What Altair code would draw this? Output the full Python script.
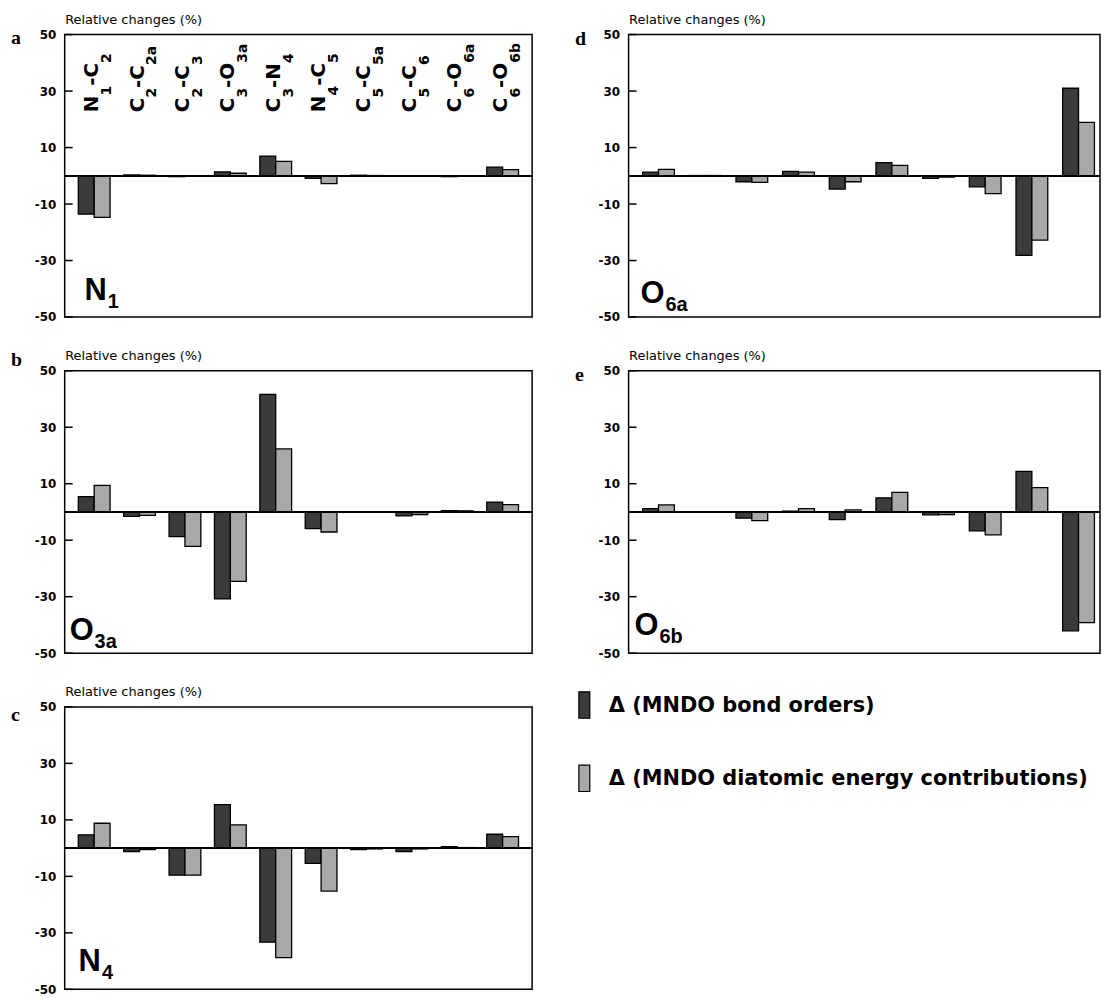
import altair as alt
import pandas as pd

# ---------------- data ----------------
atom1 = ["N", "C", "C", "C", "C", "N", "C", "C", "C", "C"]
sub1 = ["1", "2", "2", "3", "3", "4", "5", "5", "6", "6"]
atom2 = ["C", "C", "C", "O", "N", "C", "C", "C", "O", "O"]
sub2 = ["2", "2a", "3", "3a", "4", "5", "5a", "6", "6a", "6b"]
bonds = [f"{a}{s}-{b}{t}" for a, s, b, t in zip(atom1, sub1, atom2, sub2)]

series = ["Δ (MNDO bond orders)", "Δ (MNDO diatomic energy contributions)"]
tick_values = [-50, -30, -10, 10, 30, 50]
y_title = "Relative changes (%)"

# panel a : N1
a_bo = [-13.6, 0.3, -0.3, 1.4, 7.0, -0.9, 0.2, -0.2, -0.3, 3.1]
a_en = [-14.7, 0.2, -0.2, 0.9, 5.1, -2.8, 0.1, -0.2, -0.2, 2.2]
# panel b : O3a
b_bo = [5.4, -1.6, -8.7, -30.8, 41.6, -5.9, 0.1, -1.4, 0.5, 3.5]
b_en = [9.4, -1.2, -12.2, -24.6, 22.3, -7.1, 0.1, -0.9, 0.4, 2.6]
# panel c : N4
c_bo = [4.7, -1.2, -9.6, 15.4, -33.3, -5.4, -0.5, -1.2, 0.5, 4.9]
c_en = [8.8, -0.5, -9.6, 8.2, -38.8, -15.2, -0.3, -0.3, 0.2, 4.1]
# panel d : O6a
d_bo = [1.3, 0.1, -2.1, 1.6, -4.7, 4.7, -0.9, -3.9, -28.2, 31.0]
d_en = [2.3, 0.1, -2.3, 1.3, -2.1, 3.7, -0.5, -6.3, -22.8, 18.9]
# panel e : O6b
e_bo = [1.2, 0.1, -2.2, 0.3, -2.7, 5.0, -1.0, -6.7, 14.4, -42.1]
e_en = [2.5, 0.1, -3.1, 1.2, 0.7, 6.9, -0.9, -8.1, 8.6, -39.2]

letters = ["a", "b", "c", "d", "e"]
ann_atom = ["N", "O", "N", "O", "O"]
ann_sub = ["1", "3a", "4", "6a", "6b"]

# ---------------- styling ----------------
H = 284
W_LEFT = 470
W_RIGHT = 474
LET_X = -54
fill_scale = alt.Scale(domain=series, range=["#3b3b3b", "#a8a8a8"])
y_scale = alt.Scale(domain=[-50, 50], nice=False)
y_axis = alt.Axis(
    values=tick_values, ticks=False, tickSize=0, domain=False, grid=False,
    labelExpr="'' + datum.value", labelPadding=9, labelFont="DejaVu Sans",
    labelFontSize=12, labelFontWeight="bold", labelColor="black",
    title=y_title, titleAngle=0, titleAlign="left", titleBaseline="alphabetic",
    titleX=0, titleY=-11, titleFont="DejaVu Sans", titleFontSize=13,
    titleFontWeight="normal", titleColor="black",
)

# rotated bond labels (composed of main letters and lowered subscripts)
F_MAIN, F_SUB, SUB_DROP, SHIFT = 20, 14, 13, 4
W_DJB = {"N": 0.837, "C": 0.734, "O": 0.850, "-": 0.415}
W_DIG = 0.696
seg_rows = []
for bnd, a1, s1, a2, s2 in zip(bonds, atom1, sub1, atom2, sub2):
    o2 = W_DJB[a1] * F_MAIN
    o3 = o2 + W_DIG * F_SUB * len(s1)
    o4 = o3 + (W_DJB["-"] + W_DJB[a2]) * F_MAIN
    seg_rows += [(bnd, a1, 0.0, False), (bnd, s1, round(o2, 1), True),
                 (bnd, "-" + a2, round(o3, 1), False), (bnd, s2, round(o4, 1), True)]
seg_df = pd.DataFrame(seg_rows, columns=["bond", "text", "off", "sub"])

W_LSB = {"N": 0.722, "O": 0.778}


def panel(idx, bo, en, width, ann_x, ann_up, let_y, with_labels, p_outer, b_align):
    df = pd.DataFrame({
        "bond": bonds * 2,
        "series": [series[0]] * len(bonds) + [series[1]] * len(bonds),
        "value": bo + en,
    })
    xs = alt.X("bond:N", sort=bonds, axis=None,
               scale=alt.Scale(domain=bonds, paddingInner=0.3,
                               paddingOuter=p_outer, align=b_align))
    bars = alt.Chart(df).mark_bar(stroke="black", strokeWidth=1.3).encode(
        x=xs,
        xOffset=alt.XOffset("series:N", sort=series,
                            scale=alt.Scale(domain=series, paddingInner=0, paddingOuter=0)),
        y=alt.Y("value:Q", scale=y_scale, axis=y_axis),
        fill=alt.Fill("series:N", scale=fill_scale, legend=None),
    )
    zero = alt.Chart(df).mark_rule(color="black", strokeWidth=1.6).encode(y=alt.datum(0))
    ticks = alt.Chart(pd.DataFrame({"t": tick_values})).mark_rule(
        color="black", strokeWidth=1.5).encode(
        y=alt.Y("t:Q", scale=y_scale, axis=y_axis), x=alt.value(0), x2=alt.value(8))
    letter = alt.Chart(pd.DataFrame({"t": [letters[idx]]})).mark_text(
        align="left", baseline="alphabetic", font="Liberation Serif",
        fontWeight="bold", fontSize=20, color="black").encode(
        x=alt.value(LET_X), y=alt.value(let_y), text="t:N")
    atom = ann_atom[idx]
    ann_main = alt.Chart(pd.DataFrame({"t": [atom]})).mark_text(
        align="left", baseline="alphabetic", font="Liberation Sans",
        fontWeight="bold", fontSize=31, color="black").encode(
        x=alt.value(ann_x), y=alt.value(H - ann_up), text="t:N")
    ann_s = alt.Chart(pd.DataFrame({"t": [ann_sub[idx]]})).mark_text(
        align="left", baseline="alphabetic", font="Liberation Sans",
        fontWeight="bold", fontSize=20, color="black",
        dx=round(W_LSB[atom] * 31 + 1, 1), dy=8).encode(
        x=alt.value(ann_x), y=alt.value(H - ann_up), text="t:N")
    layers = [bars, zero, ticks, letter, ann_main, ann_s]
    if with_labels:
        for (off, sub), g in seg_df.groupby(["off", "sub"]):
            layers.append(alt.Chart(g).mark_text(
                angle=270, align="left", baseline="alphabetic", font="DejaVu Sans",
                fontWeight="bold", fontSize=F_SUB if sub else F_MAIN, color="black",
                dx=float(off), dy=(SUB_DROP + SHIFT) if sub else SHIFT).encode(
                x=xs, y=alt.value(78), text="text:N"))
    return alt.layer(*layers).properties(width=width, height=H)


pa = panel(0, a_bo, a_en, W_LEFT, 20, 17, 9, True, 0.3, 0.5)
pb = panel(1, b_bo, b_en, W_LEFT, 5, 13, -5, False, 0.3, 0.5)
pc = panel(2, c_bo, c_en, W_LEFT, 14, 18, 14, False, 0.3, 0.5)
pd_ = panel(3, d_bo, d_en, W_RIGHT, 12, 14, 10, False, 0.2, 0.75)
pe = panel(4, e_bo, e_en, W_RIGHT, 6, 18, 10, False, 0.2, 0.75)

# legend built from the series list
leg_df = pd.DataFrame({"series": series})
y_leg = alt.Y("series:N", sort=series, axis=None,
              scale=alt.Scale(domain=series, paddingInner=0.64, paddingOuter=0.08))
swatch = alt.Chart(leg_df).mark_rect(stroke="black", strokeWidth=1.2).encode(
    x=alt.value(LET_X + 4), x2=alt.value(LET_X + 15), y=y_leg,
    fill=alt.Fill("series:N", scale=fill_scale, legend=None))
leg_text = alt.Chart(leg_df).mark_text(
    align="left", baseline="middle", dy=1, font="DejaVu Sans",
    fontWeight="bold", fontSize=21, color="black").encode(
    x=alt.value(LET_X + 34), y=y_leg, text="series:N")
legend = alt.layer(swatch, leg_text).properties(
    width=W_RIGHT, height=112, view=alt.ViewBackground(stroke="transparent"))

left = alt.vconcat(pa, pb, pc, spacing=25)
right = alt.vconcat(pd_, pe, legend, spacing=25)

chart = alt.hconcat(left, right, spacing=40).properties(
    padding={"left": 2, "top": 2, "right": 0, "bottom": 0},
    background="white",
).configure_view(stroke="black", strokeWidth=1.5)

chart.save("out.html", embed_options={"renderer": "svg", "actions": False})
